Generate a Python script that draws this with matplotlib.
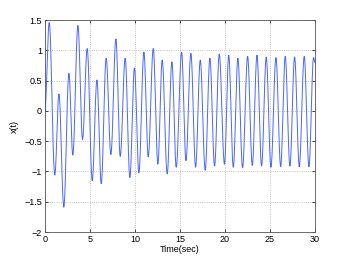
import numpy as np
import matplotlib.pyplot as plt

plt.rcParams['font.family'] = ['Liberation Sans', 'DejaVu Sans']

# extrema of x(t) (time in sec, value)
t_ext = [0.0, 0.48, 1.1, 1.56, 2.1, 2.67, 3.1, 3.67, 4.18, 4.7, 5.26, 5.78, 6.26,
         6.81, 7.33, 7.89, 8.37, 8.92, 9.44, 9.95, 10.44, 11.0, 11.48, 12.04, 12.55,
         13.03, 13.59, 14.11, 14.59, 15.19, 15.67, 16.22, 16.74, 17.26, 17.81, 18.33,
         18.85, 19.37, 19.95, 20.42, 20.93, 21.44, 21.96, 22.52, 23.04, 23.56, 24.07,
         24.59, 25.11, 25.67, 26.19, 26.7, 27.22, 27.74, 28.26, 28.81, 29.33, 29.85, 30.0]
x_ext = [0.0, 1.46, -1.06, 0.28, -1.59, 0.62, -0.73, 1.41, -0.47, 1.03, -1.15, 0.51, -1.2,
         0.87, -0.72, 1.19, -0.75, 0.87, -1.1, 0.71, -1.02, 0.97, -0.76, 1.03, -0.88,
         0.84, -1.04, 0.81, -0.93, 0.97, -0.82, 0.95, -0.93, 0.84, -0.98, 0.87,
         -0.91, 0.94, -0.88, 0.92, -0.93, 0.87, -0.94, 0.9, -0.9, 0.92, -0.91,
         0.89, -0.93, 0.88, -0.92, 0.9, -0.91, 0.89, -0.92, 0.9, -0.92, 0.88, 0.8]

xticks = [0, 5, 10, 15, 20, 25, 30]
yticks = [-2, -1.5, -1, -0.5, 0, 0.5, 1, 1.5]
ylabels = ['\u22122', '\u22121.5', '\u22121', '\u22120.5', '0', '0.5', '1', '1.5']

# smooth half-cosine joins between consecutive extrema
tt, xx = [], []
for i in range(len(t_ext) - 1):
    s = np.linspace(0, 1, 20, endpoint=False)
    w = (1 - np.cos(np.pi * s)) / 2
    tt.extend(t_ext[i] + (t_ext[i+1] - t_ext[i]) * s)
    xx.extend(x_ext[i] + (x_ext[i+1] - x_ext[i]) * w)
tt.append(t_ext[-1])
xx.append(x_ext[-1])

fig = plt.figure(figsize=(3.48, 2.61), dpi=100)
ax = fig.add_axes([0.129, 0.111, 0.776, 0.812])
ax.plot(tt, xx, color='#4a66ff', lw=0.7)

ax.set_xlim(0, 30)
ax.set_ylim(-2, 1.5)
ax.set_xticks(xticks)
ax.set_yticks(yticks)
ax.set_yticklabels(ylabels)
ax.grid(True, ls=':', color='#b0b0b0', lw=0.6)
ax.tick_params(direction='in', top=True, right=True, labelsize=6.5, length=2.5, width=0.5, pad=2)
for sp in ax.spines.values():
    sp.set_linewidth(0.6)
    sp.set_color('#555555')
ax.set_xlabel('Time(sec)', fontsize=6.5, labelpad=1)
ax.set_ylabel('x(t)', fontsize=6.5, labelpad=4)

fig.savefig('out.png', dpi=100)
